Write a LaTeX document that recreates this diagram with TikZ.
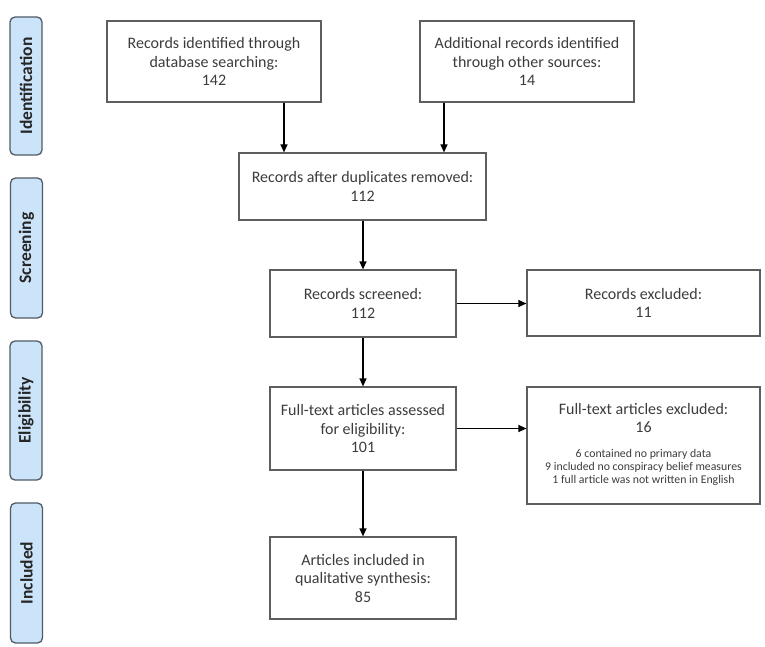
\documentclass[tikz,border=0pt]{standalone}
\usepackage{fontspec}
\setmainfont{Carlito}
\usetikzlibrary{arrows.meta}
\definecolor{txt}{HTML}{3C3C3C}
\definecolor{edge}{HTML}{5E5E5E}
\definecolor{barfill}{HTML}{CCE4FA}
\definecolor{baredge}{HTML}{4F5A66}
\tikzset{
  box/.style={draw=edge, line width=1.2pt, text=txt, align=center, inner sep=4pt,
    font=\fontsize{16}{18.5}\selectfont},
  bar/.style={draw=baredge, fill=barfill, line width=1.3pt, rounded corners=5pt,
    minimum width=32pt, text=black!85, font=\fontsize{17.5}{19}\selectfont\bfseries},
  arr/.style={-{Triangle[length=8pt,width=7pt]}, line width=1.2pt, black}
}
\begin{document}
\begin{tikzpicture}[x=1pt,y=-1pt]
\useasboundingbox (0,0) rectangle (765,647);
% phase bars
\node[bar, minimum height=138pt] (pid) at (26,86) {\rotatebox{90}{Identification}};
\node[bar, minimum height=140pt] (psc) at (26.5,248) {\rotatebox{90}{Screening}};
\node[bar, minimum height=139pt] (pel) at (26,410.5) {\rotatebox{90}{Eligibility}};
\node[bar, minimum height=140pt] (pin) at (26.5,573) {\rotatebox{90}{Included}};
% boxes
\node[box, minimum width=214pt, minimum height=81pt] (db) at (214,61.5)
  {Records identified through\\database searching:\\142};
\node[box, minimum width=214pt, minimum height=81pt] (other) at (527,61.5)
  {Additional records identified\\through other sources:\\14};
\node[box, minimum width=247pt, minimum height=67pt] (dup) at (362.5,186.5)
  {Records after duplicates removed:\\112};
\node[box, minimum width=186pt, minimum height=67pt] (scr) at (363,303.5)
  {Records screened:\\112};
\node[box, minimum width=233pt, minimum height=66pt] (exc) at (643.5,303)
  {Records excluded:\\11};
\node[box, minimum width=233pt, minimum height=117pt] (fexc) at (643.5,445.5)
  {Full-text articles excluded:\\16\\[15pt]
   {\fontsize{11.8}{13}\selectfont\begin{tabular}{@{}c@{}}
   6 contained no primary data\\9 included no conspiracy belief measures\\1 full article was not written in English
   \end{tabular}}};
\node[box, minimum width=186pt, minimum height=83pt] (full) at (363,428.5)
  {Full-text articles assessed\\for eligibility:\\101};
\node[box, minimum width=186pt, minimum height=82pt] (inc) at (363,578)
  {Articles included in\\qualitative synthesis:\\85};
% connectors
\coordinate (xa) at (284,0);
\coordinate (xb) at (444,0);
\draw[arr] (db.south -| xa) -- (dup.north -| xa);
\draw[arr] (other.south -| xb) -- (dup.north -| xb);
\draw[arr] (dup.south -| scr) -- (scr.north);
\draw[arr] (scr.east) -- (scr.east -| exc.west);
\draw[arr] (scr.south) -- (full.north);
\draw[arr] (full.east) -- (full.east -| fexc.west);
\draw[arr] (full.south) -- (inc.north);
\end{tikzpicture}
\end{document}
